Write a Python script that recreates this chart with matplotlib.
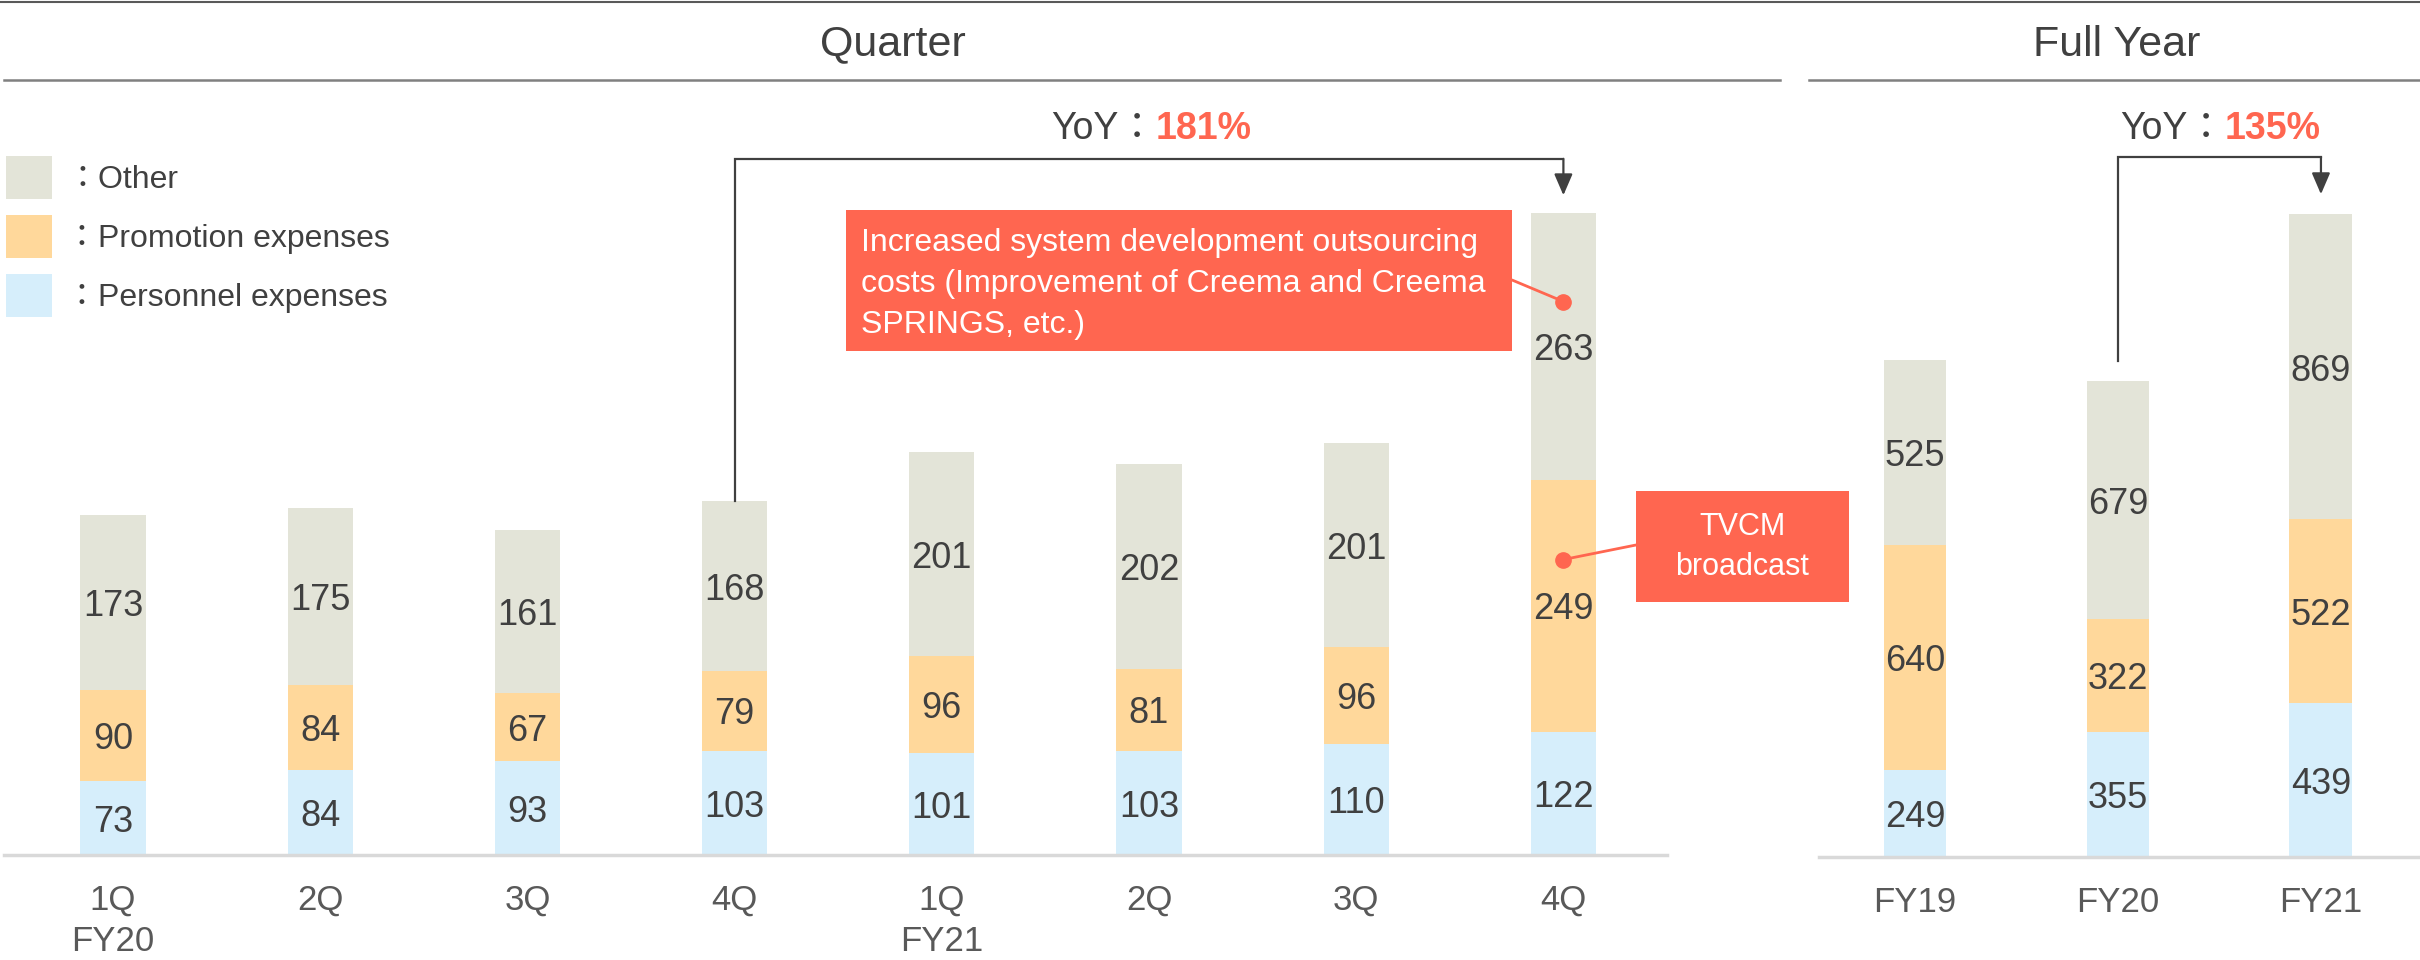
import matplotlib.pyplot as plt
from matplotlib.patches import Rectangle
from matplotlib.lines import Line2D

plt.rcParams['font.family'] = ['Liberation Sans', 'Noto Sans CJK JP', 'DejaVu Sans']

W, H = 2420, 960

# quarterly data
q_labels = ["1Q\nFY20", "2Q", "3Q", "4Q", "1Q\nFY21", "2Q", "3Q", "4Q"]
q_personnel = [73, 84, 93, 103, 101, 103, 110, 122]
q_promotion = [90, 84, 67, 79, 96, 81, 96, 249]
q_other = [173, 175, 161, 168, 201, 202, 201, 263]

# full year data
y_labels = ["FY19", "FY20", "FY21"]
y_personnel = [249, 355, 439]
y_promotion = [640, 322, 522]
y_other = [525, 679, 869]

series_names = ["Other", "Promotion expenses", "Personnel expenses"]
yoy_quarter = "181%"
yoy_year = "135%"
note_outsourcing = ("Increased system development outsourcing\n"
                    "costs (Improvement of Creema and Creema\n"
                    "SPRINGS, etc.)")
note_tvcm = "TVCM\nbroadcast"

C_OTHER = '#E3E4D8'
C_PROMO = '#FFD89B'
C_PERS = '#D6EEFB'
C_RED = '#FF6650'
C_TEXT = '#404040'
C_TICK = '#595959'


def fx(x):
    return x / W


def fy(y):
    return 1 - y / H


def stacked(ax, labels, pers, promo, other, width):
    x = list(range(len(labels)))
    b1 = ax.bar(x, pers, width, color=C_PERS)
    b2 = ax.bar(x, promo, width, bottom=pers, color=C_PROMO)
    bottoms = [a + b for a, b in zip(pers, promo)]
    b3 = ax.bar(x, other, width, bottom=bottoms, color=C_OTHER)
    for b in (b1, b2, b3):
        anns = ax.bar_label(b, label_type='center', fontsize=26, color=C_TEXT)
        for a in anns:
            a.xyann = (0, -3)
    ax.set_xticks(x)
    ax.set_xticklabels(labels, fontsize=25, color=C_TICK, linespacing=1.3)
    ax.tick_params(axis='x', length=0, pad=21)
    ax.set_yticks([])
    for s in ax.spines.values():
        s.set_visible(False)
    ax.axhline(0, color='#D9D9D9', lw=2.5, clip_on=False)
    ax.patch.set_alpha(0)
    return [a + b for a, b in zip(bottoms, other)]


def bracket(ax, i0, i1, bottom, top, tip):
    ax.plot([i0, i0, i1], [bottom, top, top], color=C_TEXT, lw=1.6,
            clip_on=False, solid_joinstyle='miter')
    ax.annotate('', xy=(i1, tip), xytext=(i1, top),
                arrowprops=dict(arrowstyle='-|>,head_length=0.65,head_width=0.28',
                                mutation_scale=20, color=C_TEXT, lw=1.6,
                                shrinkA=0, shrinkB=0))


fig = plt.figure(figsize=(24.2, 9.6), dpi=100)

ax_q = fig.add_axes([fx(4), 105 / H, (1667 - 4) / W, 855 / H])
tot_q = stacked(ax_q, q_labels, q_personnel, q_promotion, q_other, 0.314)
ax_q.set_xlim(-0.526, 7.50)
ax_q.set_ylim(0, 845)

ax_y = fig.add_axes([fx(1819), 103 / H, (2420 - 1819) / W, 857 / H])
tot_y = stacked(ax_y, y_labels, y_personnel, y_promotion, y_other, 0.31)
ax_y.set_xlim(-0.473, 2.488)
ax_y.set_ylim(0, 2440)

# header lines and titles
fig.add_artist(Line2D([0, 1], [fy(2), fy(2)], color='#595959', lw=1.5))
fig.add_artist(Line2D([fx(4), fx(1780)], [fy(80), fy(80)], color='#808080', lw=1.8))
fig.add_artist(Line2D([fx(1809), 1], [fy(80), fy(80)], color='#808080', lw=1.8))
fig.text(fx(893), fy(44), "Quarter", ha='center', va='center', fontsize=31, color=C_TEXT)
fig.text(fx(2117), fy(45), "Full Year", ha='center', va='center', fontsize=31, color=C_TEXT)

# legend
for i, (name, c) in enumerate(zip(series_names, [C_OTHER, C_PROMO, C_PERS])):
    yc = 177 + 59 * i
    fig.add_artist(Rectangle((fx(6), fy(yc + 21.5)), 46 / W, 43 / H,
                             transform=fig.transFigure, color=c, lw=0))
    fig.text(fx(66), fy(yc + 3), "：" + name, fontsize=23, va='center', color=C_TEXT)

# YoY brackets
bracket(ax_q, 3, 7, tot_q[3], 688, 652)
bracket(ax_y, 1, 2, 1412, 1993, 1887)
fig.text(fx(1156), fy(139), "YoY：", ha='right', va='baseline', fontsize=27, color=C_TEXT)
fig.text(fx(1156), fy(139), yoy_quarter, ha='left', va='baseline', fontsize=27,
         color=C_RED, weight='bold')
fig.text(fx(2225), fy(139), "YoY：", ha='right', va='baseline', fontsize=27, color=C_TEXT)
fig.text(fx(2225), fy(139), yoy_year, ha='left', va='baseline', fontsize=27,
         color=C_RED, weight='bold')

# callouts
fig.add_artist(Rectangle((fx(846), fy(351)), (1512 - 846) / W, (351 - 210) / H,
                         transform=fig.transFigure, color=C_RED, lw=0))
fig.text(fx(861), fy(284), note_outsourcing, ha='left', va='center', fontsize=23,
         color='white', linespacing=1.5)
ax_q.annotate('', xy=(7, 547), xycoords='data', xytext=(fx(1512), fy(280)),
              textcoords='figure fraction',
              arrowprops=dict(arrowstyle='-', color=C_RED, lw=2, shrinkA=0, shrinkB=0))
ax_q.plot(7, 547, 'o', color=C_RED, ms=11, clip_on=False)

fig.add_artist(Rectangle((fx(1636), fy(602)), (1849 - 1636) / W, (602 - 491) / H,
                         transform=fig.transFigure, color=C_RED, lw=0))
fig.text(fx(1742), fy(547), note_tvcm, ha='center', va='center', fontsize=22,
         color='white', linespacing=1.45)
ax_q.annotate('', xy=(7, 292), xycoords='data', xytext=(fx(1636), fy(545)),
              textcoords='figure fraction',
              arrowprops=dict(arrowstyle='-', color=C_RED, lw=2, shrinkA=0, shrinkB=0))
ax_q.plot(7, 292, 'o', color=C_RED, ms=11, clip_on=False)

plt.savefig("out.png", dpi=100)
